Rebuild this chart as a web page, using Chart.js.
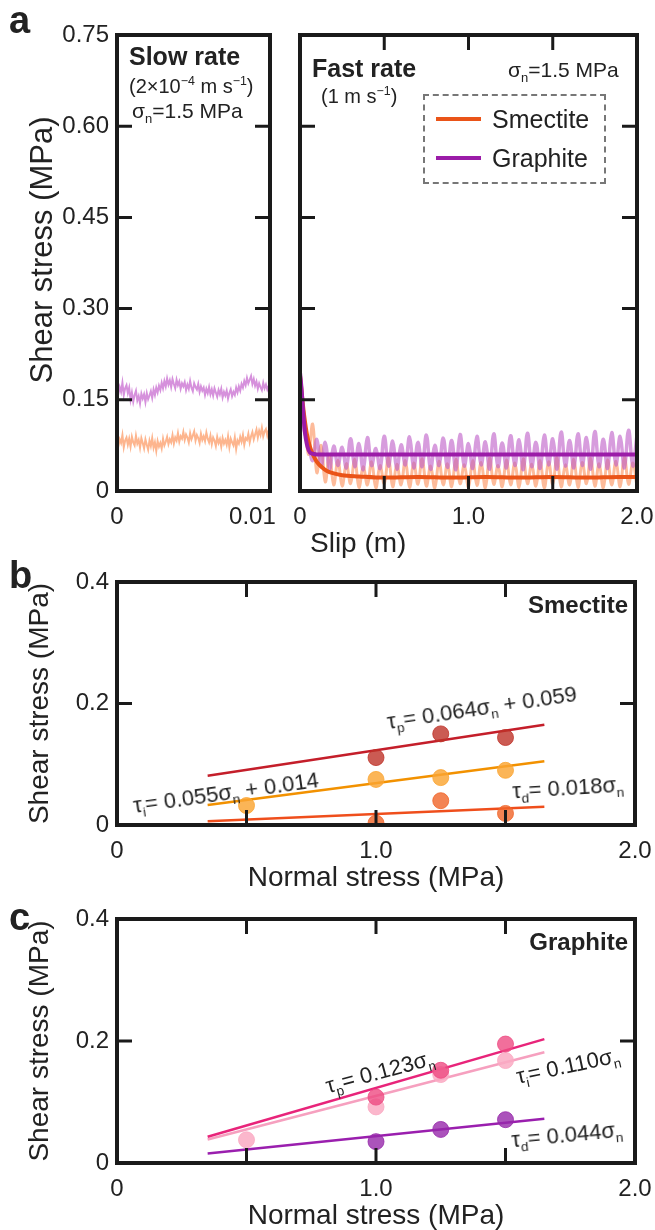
<!DOCTYPE html>
<html>
<head>
<meta charset="utf-8">
<script src="https://cdn.jsdelivr.net/npm/chart.js@4.4.1/dist/chart.umd.min.js"></script>
<style>
  body { margin: 0; background: #fff; }
  #fig { position: relative; width: 655px; height: 1230px; overflow: hidden; font-family: "Liberation Sans", Arial, sans-serif; color: #222; }
  canvas { position: absolute; }
  .t { position: absolute; white-space: nowrap; line-height: 1; }
  .b { font-weight: bold; }
  sub, sup { font-size: 62%; line-height: 0; }
  .rot { transform: translate(-50%, -50%) rotate(var(--a)); }
  .legend { position: absolute; left: 423px; top: 94px; width: 183px; height: 90px; box-sizing: border-box; border: 2px dashed #777; }
  .swatch { position: absolute; width: 45px; height: 4px; }
</style>
</head>
<body>
<div id="fig">
  <canvas id="slow" width="285" height="560" style="left:0;top:0"></canvas>
  <canvas id="fast" width="375" height="560" style="left:280px;top:0"></canvas>
  <canvas id="smectite" width="655" height="340" style="left:0;top:560px"></canvas>
  <canvas id="graphite" width="655" height="330" style="left:0;top:900px"></canvas>

  <div class="t b" style="left:9px;top:1px;font-size:38px">a</div>
  <div class="t b" style="left:9px;top:556px;font-size:38px">b</div>
  <div class="t b" style="left:9px;top:898px;font-size:38px">c</div>

  <div class="t rot" style="left:41px;top:250px;font-size:31px;--a:-90deg">Shear stress (MPa)</div>

  <div class="t b" style="left:129px;top:44px;font-size:25px">Slow rate</div>
  <div class="t" style="left:129px;top:76px;font-size:20px">(2×10<sup>−4</sup> m s<sup>−1</sup>)</div>
  <div class="t" style="left:132px;top:100px;font-size:21px">σ<sub>n</sub>=1.5 MPa</div>

  <div class="t b" style="left:312px;top:56px;font-size:25px">Fast rate</div>
  <div class="t" style="left:321px;top:86px;font-size:20px">(1 m s<sup>−1</sup>)</div>
  <div class="t" style="left:508px;top:59px;font-size:21px">σ<sub>n</sub>=1.5 MPa</div>

  <div class="legend"></div>
  <div class="swatch" style="left:436px;top:117px;background:#ea5418"></div>
  <div class="swatch" style="left:436px;top:156px;background:#9b1ca8"></div>
  <div class="t" style="left:492px;top:107px;font-size:25px">Smectite</div>
  <div class="t" style="left:492px;top:146px;font-size:25px">Graphite</div>

  <div class="t" style="left:310px;top:529px;font-size:28px">Slip (m)</div>

  <div class="t b" style="right:27px;top:593px;font-size:24px">Smectite</div>
  <div class="t rot" style="left:482px;top:708px;font-size:22px;--a:-8.5deg">τ<sub>p</sub>= 0.064σ<sub>n</sub> + 0.059</div>
  <div class="t rot" style="left:226px;top:793px;font-size:22px;--a:-8deg">τ<sub>i</sub>= 0.055σ<sub>n</sub> + 0.014</div>
  <div class="t rot" style="left:568px;top:788px;font-size:22px;--a:-3.5deg">τ<sub>d</sub>= 0.018σ<sub>n</sub></div>

  <div class="t b" style="right:27px;top:930px;font-size:24px">Graphite</div>
  <div class="t rot" style="left:380px;top:1072px;font-size:22px;--a:-15deg">τ<sub>p</sub>= 0.123σ<sub>n</sub></div>
  <div class="t rot" style="left:568px;top:1066px;font-size:22px;--a:-12deg">τ<sub>i</sub>= 0.110σ<sub>n</sub></div>
  <div class="t rot" style="left:567px;top:1135px;font-size:22px;--a:-5.5deg">τ<sub>d</sub>= 0.044σ<sub>n</sub></div>
</div>
<script>
// panel a, slow rate (slip in m, shear stress in MPa)
const slowSlip = [
  0, 0.0001, 0.0002, 0.0003, 0.0004, 0.0005, 0.0006, 0.0007, 0.0008, 0.0009,
  0.001, 0.0011, 0.0012, 0.0013, 0.0014, 0.0015, 0.0016, 0.0017, 0.0018, 0.0019,
  0.002, 0.0021, 0.0022, 0.0023, 0.0024, 0.0025, 0.0026, 0.0027, 0.0028, 0.0029,
  0.003, 0.0031, 0.0032, 0.0033, 0.0034, 0.0035, 0.0036, 0.0037, 0.0038, 0.0039,
  0.004, 0.0041, 0.0042, 0.0043, 0.0044, 0.0045, 0.0046, 0.0047, 0.0048, 0.0049,
  0.005, 0.0051, 0.0052, 0.0053, 0.0054, 0.0055, 0.0056, 0.0057, 0.0058, 0.0059,
  0.006, 0.0061, 0.0062, 0.0063, 0.0064, 0.0065, 0.0066, 0.0067, 0.0068, 0.0069,
  0.007, 0.0071, 0.0072, 0.0073, 0.0074, 0.0075, 0.0076, 0.0077, 0.0078, 0.0079,
  0.008, 0.0081, 0.0082, 0.0083, 0.0084, 0.0085, 0.0086, 0.0087, 0.0088, 0.0089,
  0.009, 0.0091, 0.0092, 0.0093, 0.0094, 0.0095, 0.0096, 0.0097, 0.0098, 0.0099,
  0.01, 0.0101, 0.0102, 0.0103, 0.0104, 0.0105, 0.0106, 0.0107, 0.0108, 0.0109,
  0.011, 0.0111, 0.0112,
];
const slowGraphite = [
  0.175, 0.160, 0.171, 0.163, 0.178, 0.158, 0.169, 0.174, 0.161, 0.170,
  0.150, 0.162, 0.147, 0.158, 0.165, 0.149, 0.156, 0.144, 0.160, 0.152,
  0.159, 0.146, 0.161, 0.151, 0.157, 0.164, 0.153, 0.167, 0.158, 0.170,
  0.162, 0.173, 0.166, 0.178, 0.169, 0.181, 0.172, 0.185, 0.175, 0.182,
  0.171, 0.184, 0.176, 0.169, 0.183, 0.174, 0.180, 0.168, 0.177, 0.172,
  0.179, 0.166, 0.175, 0.168, 0.181, 0.170, 0.164, 0.177, 0.171, 0.167,
  0.176, 0.163, 0.172, 0.165, 0.170, 0.158, 0.168, 0.161, 0.171, 0.159,
  0.167, 0.157, 0.169, 0.162, 0.155, 0.166, 0.159, 0.168, 0.154, 0.163,
  0.157, 0.165, 0.152, 0.161, 0.167, 0.156, 0.163, 0.158, 0.170, 0.162,
  0.172, 0.165, 0.176, 0.170, 0.181, 0.174, 0.186, 0.177, 0.183, 0.189,
  0.176, 0.184, 0.173, 0.180, 0.168, 0.177, 0.171, 0.166, 0.178, 0.169,
  0.175, 0.167, 0.173,
];
const slowSmectite = [
  0.090, 0.074, 0.085, 0.079, 0.092, 0.072, 0.083, 0.088, 0.076, 0.086,
  0.073, 0.089, 0.080, 0.075, 0.091, 0.078, 0.084, 0.071, 0.087, 0.079,
  0.070, 0.085, 0.076, 0.068, 0.083, 0.074, 0.087, 0.071, 0.080, 0.066,
  0.082, 0.073, 0.079, 0.070, 0.086, 0.075, 0.081, 0.089, 0.077, 0.085,
  0.080, 0.092, 0.078, 0.088, 0.083, 0.095, 0.081, 0.090, 0.086, 0.097,
  0.084, 0.093, 0.088, 0.080, 0.095, 0.085, 0.091, 0.098, 0.083, 0.092,
  0.087, 0.079, 0.094, 0.084, 0.090, 0.082, 0.096, 0.086, 0.080, 0.091,
  0.077, 0.088, 0.083, 0.074, 0.089, 0.079, 0.085, 0.073, 0.087, 0.078,
  0.084, 0.076, 0.090, 0.072, 0.086, 0.080, 0.075, 0.088, 0.069, 0.083,
  0.078, 0.089, 0.081, 0.092, 0.076, 0.087, 0.084, 0.094, 0.080, 0.090,
  0.097, 0.085, 0.093, 0.101, 0.088, 0.099, 0.092, 0.104, 0.090, 0.098,
  0.102, 0.091, 0.100,
];

// panel a, fast rate
const fastSlip = [0, 0.025, 0.05, 0.075, 0.1, 0.125, 0.15, 0.175, 0.2, 0.225, 0.25, 0.275, 0.3, 0.325, 0.35, 0.375, 0.4, 0.425, 0.45, 0.475, 0.5, 0.525, 0.55, 0.575, 0.6, 0.625, 0.65, 0.675, 0.7, 0.725, 0.75, 0.775, 0.8, 0.825, 0.85, 0.875, 0.9, 0.925, 0.95, 0.975, 1.0, 1.025, 1.05, 1.075, 1.1, 1.125, 1.15, 1.175, 1.2, 1.225, 1.25, 1.275, 1.3, 1.325, 1.35, 1.375, 1.4, 1.425, 1.45, 1.475, 1.5, 1.525, 1.55, 1.575, 1.6, 1.625, 1.65, 1.675, 1.7, 1.725, 1.75, 1.775, 1.8, 1.825, 1.85, 1.875, 1.9, 1.925, 1.95, 1.975, 2.0];
const fastGraphiteRaw = [0.190, 0.100, 0.078, 0.050, 0.085, 0.040, 0.080, 0.036, 0.074, 0.042, 0.072, 0.038, 0.086, 0.040, 0.078, 0.035, 0.088, 0.042, 0.070, 0.037, 0.090, 0.041, 0.082, 0.036, 0.076, 0.043, 0.089, 0.038, 0.080, 0.040, 0.092, 0.036, 0.075, 0.042, 0.087, 0.039, 0.083, 0.035, 0.093, 0.041, 0.078, 0.037, 0.090, 0.043, 0.081, 0.036, 0.094, 0.040, 0.079, 0.038, 0.091, 0.042, 0.084, 0.035, 0.095, 0.040, 0.080, 0.037, 0.092, 0.043, 0.086, 0.036, 0.097, 0.041, 0.083, 0.038, 0.094, 0.042, 0.088, 0.036, 0.098, 0.040, 0.085, 0.037, 0.096, 0.043, 0.090, 0.038, 0.100, 0.041, 0.092];
const fastSmectiteRaw = [0.150, 0.120, 0.060, 0.110, 0.030, 0.075, 0.015, 0.060, 0.010, 0.050, 0.008, 0.045, 0.012, 0.052, 0.006, 0.040, 0.010, 0.048, 0.005, 0.042, 0.012, 0.055, 0.007, 0.044, 0.010, 0.050, 0.006, 0.046, 0.011, 0.053, 0.008, 0.041, 0.005, 0.049, 0.010, 0.045, 0.007, 0.052, 0.012, 0.043, 0.006, 0.050, 0.009, 0.047, 0.005, 0.054, 0.011, 0.042, 0.007, 0.051, 0.010, 0.046, 0.006, 0.053, 0.012, 0.044, 0.008, 0.050, 0.005, 0.048, 0.011, 0.055, 0.007, 0.043, 0.010, 0.052, 0.006, 0.047, 0.012, 0.054, 0.008, 0.045, 0.005, 0.051, 0.010, 0.049, 0.007, 0.056, 0.011, 0.046, 0.008];
const avgSlipGraphite = [0, 0.01, 0.02, 0.03, 0.04, 0.05, 0.06, 0.08, 0.1, 0.3, 0.6, 1.0, 1.4, 1.8, 2.0];
const fastGraphiteAvg = [0.195, 0.165, 0.125, 0.095, 0.078, 0.068, 0.063, 0.061, 0.060, 0.060, 0.060, 0.060, 0.060, 0.060, 0.060];
const avgSlipSmectite = [0, 0.02, 0.04, 0.06, 0.08, 0.1, 0.13, 0.16, 0.2, 0.25, 0.35, 0.5, 0.7, 0.9, 1.1, 1.3, 1.5, 1.7, 1.9, 2.0];
const fastSmectiteAvg = [0.190, 0.135, 0.095, 0.072, 0.058, 0.048, 0.039, 0.033, 0.029, 0.026, 0.024, 0.022, 0.023, 0.022, 0.023, 0.022, 0.023, 0.022, 0.023, 0.023];

// panels b and c: normal stress (MPa) vs shear stress (MPa)
const fitStress = [0.35, 1.65];
const smectitePeakStress = [1.0, 1.25, 1.5];
const smectitePeak = [0.111, 0.150, 0.144];
const smectiteInitStress = [0.5, 1.0, 1.25, 1.5];
const smectiteInit = [0.032, 0.075, 0.078, 0.090];
const smectiteDynStress = [1.0, 1.25, 1.5];
const smectiteDyn = [0.003, 0.040, 0.019];
const smectitePeakFit = [0.081, 0.165];
const smectiteInitFit = [0.033, 0.105];
const smectiteDynFit = [0.006, 0.030];

const graphitePeakStress = [1.0, 1.25, 1.5];
const graphitePeak = [0.108, 0.152, 0.195];
const graphiteInitStress = [0.5, 1.0, 1.25, 1.5];
const graphiteInit = [0.038, 0.092, 0.145, 0.168];
const graphiteDynStress = [1.0, 1.25, 1.5];
const graphiteDyn = [0.035, 0.055, 0.071];
const graphitePeakFit = [0.043, 0.203];
const graphiteInitFit = [0.0385, 0.1815];
const graphiteDynFit = [0.0154, 0.0726];

const zip = (xs, ys) => xs.map((x, i) => ({ x, y: ys[i] }));

Chart.defaults.font.family = '"Liberation Sans", Arial, sans-serif';
Chart.defaults.color = "#222";

// frame with inward tick marks on all four sides
Chart.register({
  id: "frameTicks",
  afterDatasetsDraw(chart, args, opts) {
    const { ctx, chartArea: a, scales } = chart;
    const len = 15;
    ctx.save();
    ctx.strokeStyle = "#1a1a1a";
    ctx.lineWidth = 3;
    ctx.beginPath();
    (opts.x || []).forEach((v) => {
      const px = scales.x.getPixelForValue(v);
      ctx.moveTo(px, a.bottom);
      ctx.lineTo(px, a.bottom - len);
      ctx.moveTo(px, a.top);
      ctx.lineTo(px, a.top + len);
    });
    (opts.y || []).forEach((v) => {
      const py = scales.y.getPixelForValue(v);
      ctx.moveTo(a.left, py);
      ctx.lineTo(a.left + len, py);
      ctx.moveTo(a.right, py);
      ctx.lineTo(a.right - len, py);
    });
    ctx.stroke();
    ctx.lineWidth = 4;
    ctx.strokeRect(a.left, a.top, a.right - a.left, a.bottom - a.top);
    ctx.restore();
  },
});

function buildOptions(cfg) {
  const axis = (c, horizontal) => ({
    type: "linear",
    min: c.min,
    max: c.max,
    grid: { display: false, drawTicks: false },
    border: { display: false },
    afterBuildTicks: (s) => {
      s.ticks = c.ticks.map((value) => ({ value }));
    },
    afterFit: (s) => {
      if (horizontal) s.height = c.size;
      else s.width = c.size;
      s.paddingLeft = 0;
      s.paddingRight = 0;
      s.paddingTop = 0;
      s.paddingBottom = 0;
    },
    ticks: {
      display: !!c.fmt,
      padding: horizontal ? 12 : 8,
      font: { size: 24 },
      color: "#222",
      maxRotation: 0,
      autoSkip: false,
      callback: c.fmt || (() => ""),
    },
    title: c.title
      ? { display: true, text: c.title, font: { size: 28, lineHeight: 1 }, color: "#222", padding: c.titlePad }
      : { display: false },
  });
  return {
    responsive: false,
    animation: false,
    devicePixelRatio: 1,
    layout: { padding: cfg.padding },
    plugins: { legend: { display: false }, tooltip: { enabled: false }, frameTicks: cfg.frame },
    scales: { x: axis(cfg.x, true), y: axis(cfg.y, false) },
  };
}

const stressLabel = (v) => (v === 0 ? "0" : v.toFixed(2));
const oneDecimal = (v) => (v === 0 ? "0" : v.toFixed(1));

new Chart(document.getElementById("slow"), {
  type: "line",
  data: {
    datasets: [
      { data: zip(slowSlip, slowGraphite), borderColor: "#d691dc", borderWidth: 2, pointRadius: 0, tension: 0 },
      { data: zip(slowSlip, slowSmectite), borderColor: "#fdb58e", borderWidth: 2, pointRadius: 0, tension: 0 },
    ],
  },
  options: buildOptions({
    padding: { top: 35, right: 15, bottom: 0, left: 0 },
    x: { min: 0, max: 0.0113, ticks: [0, 0.01], fmt: (v) => (v === 0 ? "0" : "0.01"), size: 69 },
    y: { min: 0, max: 0.75, ticks: [0, 0.15, 0.3, 0.45, 0.6, 0.75], fmt: stressLabel, size: 117 },
    frame: { y: [0.15, 0.3, 0.45, 0.6] },
  }),
});

new Chart(document.getElementById("fast"), {
  type: "line",
  data: {
    datasets: [
      { data: zip(avgSlipGraphite, fastGraphiteAvg), borderColor: "#9b1ca8", borderWidth: 4, pointRadius: 0, cubicInterpolationMode: "monotone", order: 0 },
      { data: zip(avgSlipSmectite, fastSmectiteAvg), borderColor: "#ea5418", borderWidth: 4, pointRadius: 0, cubicInterpolationMode: "monotone", order: 1 },
      { data: zip(fastSlip, fastGraphiteRaw), borderColor: "rgba(190, 95, 200, 0.62)", borderWidth: 3.5, pointRadius: 0, tension: 0.4, order: 2 },
      { data: zip(fastSlip, fastSmectiteRaw), borderColor: "rgba(252, 150, 100, 0.65)", borderWidth: 3, pointRadius: 0, tension: 0.4, order: 3 },
    ],
  },
  options: buildOptions({
    padding: { top: 35, right: 18, bottom: 0, left: 0 },
    x: { min: 0, max: 2, ticks: [0, 1, 2], fmt: oneDecimal, size: 69 },
    y: { min: 0, max: 0.75, ticks: [0.15, 0.3, 0.45, 0.6], size: 20 },
    frame: { x: [0.5, 1, 1.5], y: [0.15, 0.3, 0.45, 0.6] },
  }),
});

function stressChart(id, padding, xSize, titleBottom, sets) {
  const [peakColor, initColor, dynColor] = sets.colors;
  const point = (data, color) => ({
    data, showLine: false, pointRadius: 8, pointBackgroundColor: color, pointBorderColor: color, pointBorderWidth: 1, order: 0,
  });
  const fit = (data, color) => ({ data, showLine: true, borderColor: color, borderWidth: 2.5, pointRadius: 0, order: 1 });
  new Chart(document.getElementById(id), {
    type: "scatter",
    data: {
      datasets: [
        point(sets.peak, peakColor.point),
        point(sets.init, initColor.point),
        point(sets.dyn, dynColor.point),
        fit(sets.peakFit, peakColor.line),
        fit(sets.initFit, initColor.line),
        fit(sets.dynFit, dynColor.line),
      ],
    },
    options: buildOptions({
      padding,
      x: {
        min: 0, max: 2, ticks: [0, 1, 2], fmt: oneDecimal, size: xSize,
        title: "Normal stress (MPa)", titlePad: { top: 0, bottom: titleBottom },
      },
      y: {
        min: 0, max: 0.4, ticks: [0, 0.2, 0.4], fmt: oneDecimal, size: 117,
        title: "Shear stress (MPa)", titlePad: { top: 26, bottom: 0 },
      },
      frame: { x: [0.5, 1, 1.5], y: [0.2] },
    }),
  });
}

stressChart("smectite", { top: 22, right: 20, bottom: 0, left: 0 }, 75, 8, {
  colors: [
    { point: "rgba(190, 50, 40, 0.8)", line: "#c41e2a" },
    { point: "rgba(250, 165, 50, 0.82)", line: "#f29100" },
    { point: "rgba(240, 100, 40, 0.8)", line: "#ef4e1c" },
  ],
  peak: zip(smectitePeakStress, smectitePeak),
  init: zip(smectiteInitStress, smectiteInit),
  dyn: zip(smectiteDynStress, smectiteDyn),
  peakFit: zip(fitStress, smectitePeakFit),
  initFit: zip(fitStress, smectiteInitFit),
  dynFit: zip(fitStress, smectiteDynFit),
});

stressChart("graphite", { top: 19, right: 20, bottom: 0, left: 0 }, 67, 0, {
  colors: [
    { point: "rgba(238, 75, 130, 0.8)", line: "#e8247a" },
    { point: "rgba(250, 170, 195, 0.85)", line: "#f6a0bf" },
    { point: "rgba(150, 40, 170, 0.8)", line: "#9a1fae" },
  ],
  peak: zip(graphitePeakStress, graphitePeak),
  init: zip(graphiteInitStress, graphiteInit),
  dyn: zip(graphiteDynStress, graphiteDyn),
  peakFit: zip(fitStress, graphitePeakFit),
  initFit: zip(fitStress, graphiteInitFit),
  dynFit: zip(fitStress, graphiteDynFit),
});
</script>
</body>
</html>
